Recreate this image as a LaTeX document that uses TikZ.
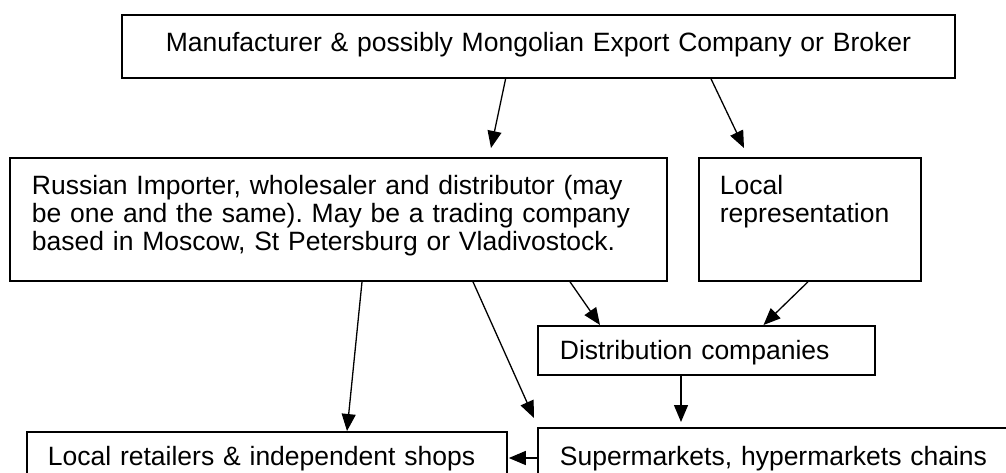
\documentclass[tikz,border=0pt]{standalone}
\usepackage{fontspec}
\setmainfont{Liberation Sans}
\usetikzlibrary{arrows.meta}
\frenchspacing

\begin{document}
\begin{tikzpicture}[x=1pt, y=-1pt,
    box/.style={draw, line width=1.8pt, anchor=north west, align=left,
	font=\fontsize{26.5pt}{28pt}\selectfont, inner xsep=22pt, text height=19pt},
    arr/.style={line width=1.3pt, -{Triangle[length=17pt,width=14pt]}}]
    \useasboundingbox (0,0) rectangle (1006,472);
    \clip (0,0) rectangle (1006,472);
    \node[box, align=center, text width=789pt, inner ysep=18pt, text depth=8pt]
	(maker) at (121,14) {Manufacturer \& possibly Mongolian Export Company or Broker};
    \node[box, text width=613pt, inner ysep=18pt, text depth=68pt]
	(importer) at (9,157) {Russian Importer, wholesaler and distributor (may\\
	be one and the same). May be a trading company\\
	based in Moscow, St Petersburg or Vladivostock.};
    \node[box, text width=180pt, inner xsep=21pt, inner ysep=18pt, text depth=68pt]
	(localrep) at (698,157) {Local\\representation};
    \node[box, text width=293pt, inner ysep=15pt, text depth=0pt]
	(distrib) at (537,325) {Distribution companies};
    \node[box, text width=456pt, inner ysep=19pt, text depth=20pt]
	(chains) at (537,427) {Supermarkets, hypermarkets chains};
    \node[box, text width=438pt, inner xsep=21pt, inner ysep=15pt, text depth=20pt]
	(shops) at (26,431) {Local retailers \& independent shops};
    % flows
    \draw[arr] ([xshift=384.6pt]maker.south west) -- ([xshift=482pt,yshift=9pt]importer.north west);
    \draw[arr] ([xshift=590pt]maker.south west) -- ([xshift=46pt,yshift=9pt]localrep.north west);
    \draw[arr] ([xshift=561pt]importer.south west) -- ([xshift=63pt]distrib.north west);
    \draw[arr] ([xshift=110pt]localrep.south west) -- ([xshift=226.5pt]distrib.north west);
    \draw[arr] ([xshift=144pt]distrib.south west) -- ([xshift=144pt,yshift=5pt]chains.north west);
    \draw[arr] ([xshift=353pt]importer.south west) -- ([xshift=321pt]shops.north west);
    \draw[arr] ([xshift=464pt]importer.south west) -- ([xshift=-3pt,yshift=9pt]chains.north west);
    \draw[arr] ([yshift=-31pt]chains.north west) -- ([xshift=1pt,yshift=-27pt]shops.north east);
\end{tikzpicture}
\end{document}
